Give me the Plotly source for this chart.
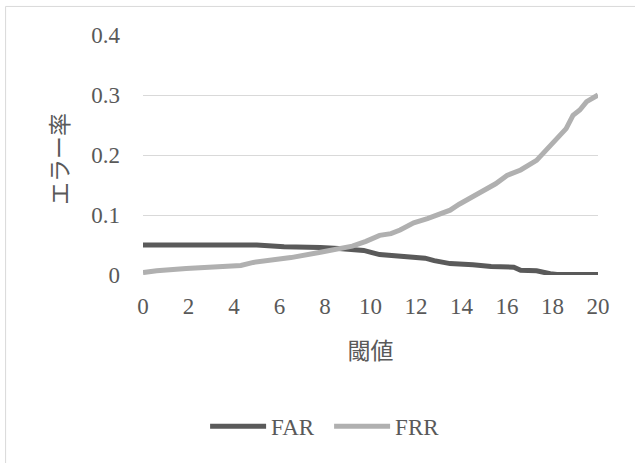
import plotly.graph_objects as go

far_x = [0, 5.0, 6.2, 6.9, 7.8, 8.6, 9.4, 9.7, 10.4, 11.0, 11.9, 12.4, 12.8, 13.5, 14.5, 15.3, 16.3, 16.6, 17.3, 17.5, 17.9, 18.2, 20]
far_y = [0.050, 0.050, 0.047, 0.047, 0.046, 0.044, 0.042, 0.041, 0.034, 0.032, 0.031, 0.028, 0.024, 0.019, 0.017, 0.014, 0.013, 0.008, 0.007, 0.005, 0.002, 0.001, 0.001]

frr_x = [0, 0.6, 1.9, 4.3, 4.85, 5.9, 6.5, 7.8, 8.6, 9.2, 9.8, 10.4, 10.9, 11.3, 11.9, 12.5, 13.5, 13.9, 14.7, 15.5, 16.0, 16.6, 17.3, 17.7, 18.2, 18.6, 18.9, 19.2, 19.5, 20]
frr_y = [0.004, 0.007, 0.011, 0.016, 0.021, 0.025, 0.029, 0.038, 0.043, 0.048, 0.056, 0.066, 0.069, 0.075, 0.087, 0.094, 0.108, 0.118, 0.135, 0.152, 0.166, 0.175, 0.191, 0.207, 0.229, 0.244, 0.266, 0.275, 0.289, 0.300]

x_ticks = [0, 2, 4, 6, 8, 10, 12, 14, 16, 18, 20]
y_ticks = [0, 0.1, 0.2, 0.3, 0.4]
y_tick_labels = ["0", "0.1", "0.2", "0.3", "0.4"]
x_title = "閾値"
y_title = "エラー率"

FONT = "'Liberation Serif', 'Noto Sans CJK JP', serif"
TXT = "#595959"

fig = go.Figure()
fig.add_trace(go.Scatter(x=far_x, y=far_y, mode="lines", name="FAR",
                         line=dict(color="#5A5A5A", width=5)))
fig.add_trace(go.Scatter(x=frr_x, y=frr_y, mode="lines", name="FRR",
                         line=dict(color="#B0B0B0", width=5)))

fig.update_layout(
    width=635, height=463,
    margin=dict(l=143, r=37, t=35, b=188),
    paper_bgcolor="white", plot_bgcolor="white",
    font=dict(family=FONT, color=TXT, size=23),
    showlegend=True,
    legend=dict(orientation="h", x=0.409, xanchor="center", y=-0.63, yanchor="middle",
                font=dict(size=23, color=TXT), itemwidth=56, entrywidth=53),
    xaxis=dict(range=[0, 20], tickvals=x_ticks, ticktext=[str(v) for v in x_ticks],
               showgrid=False, zeroline=False, showline=False, ticks="",
               ticklabelstandoff=15,
               title=dict(text=x_title, font=dict(size=23, color=TXT), standoff=24)),
    yaxis=dict(range=[0, 0.4], tickvals=y_ticks, ticktext=y_tick_labels,
               showgrid=True, gridcolor="#D9D9D9", gridwidth=1, zeroline=False,
               showline=False, ticks="", ticklabelstandoff=22),
    annotations=[dict(text=y_title, xref="paper", yref="paper", x=-0.1824, y=0.483,
                      xanchor="center", yanchor="middle", textangle=-90, showarrow=False,
                      font=dict(size=23, color=TXT))],
    shapes=[dict(type="rect", xref="paper", yref="paper",
                 x0=-0.302, x1=1.2, y0=-0.9, y1=1.119,
                 line=dict(color="#D9D9D9", width=1), fillcolor="rgba(0,0,0,0)",
                 layer="below")],
)

fig.write_html("out.html", config={"displayModeBar": False},
               post_script="document.body.style.margin='0';")
